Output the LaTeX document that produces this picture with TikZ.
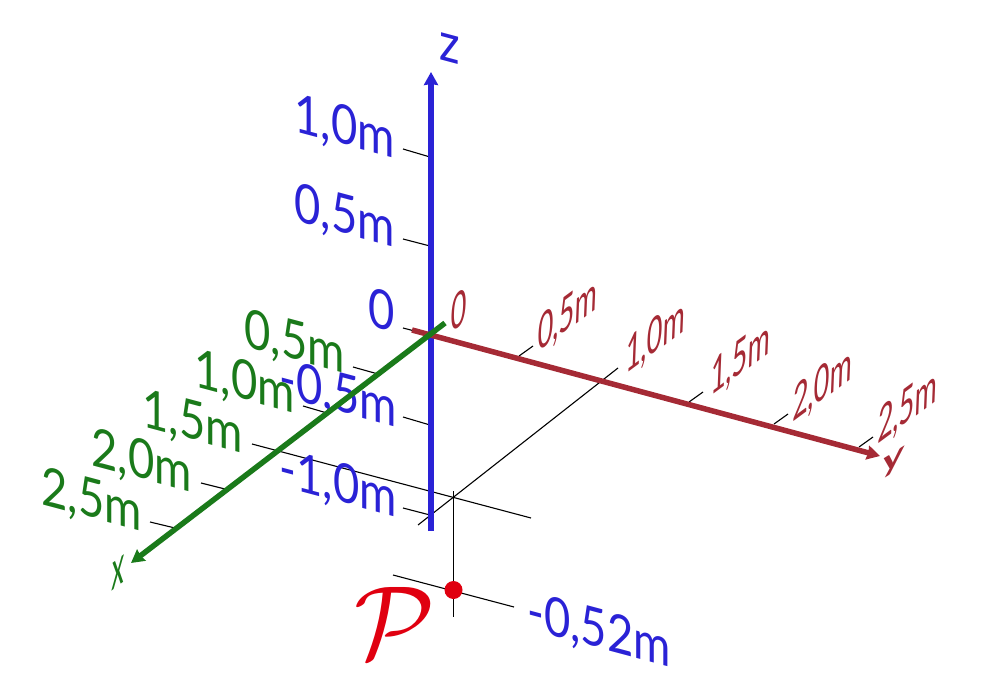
\documentclass[tikz,border=0pt]{standalone}
\usepackage{amsmath}
\usepackage{fontspec}
\setmainfont{Lato}
\usetikzlibrary{arrows.meta, positioning}
\tikzset{
    textnode/.style = {draw=none, fill=none, rectangle, inner sep = 0em, font=\fontsize{50}{50}\selectfont},
    bluelabel/.style = {textnode, text=zblue, anchor=base east, font=\fontsize{54}{54}\selectfont, transform shape, cm={0.84,-0.224,0,1,(0,0)}},
    greenlabel/.style = {textnode, text=xgreen, anchor=base east, font=\fontsize{54}{54}\selectfont, transform shape, cm={0.84,-0.224,0,1,(0,0)}},
    redlabel/.style = {textnode, text=ybrown, anchor=base west, transform shape, cm={0.54,0.40,0.04,1,(0,0)}},
    tickline/.style = {black, line width=1.1pt},
    axisline/.style = {line width=5.5pt, -{Stealth[length=13pt,width=14pt,inset=1pt]}},
    dotnode/.style = {draw=none, fill=pointred, circle, minimum size=18pt, inner sep = 0em}
}
\definecolor{zblue}{RGB}{42, 34, 214}
\definecolor{xgreen}{RGB}{26, 122, 26}
\definecolor{ybrown}{RGB}{165, 42, 53}
\definecolor{pointred}{RGB}{224, 0, 16}

\begin{document}
\begin{tikzpicture}[x=1pt, y=-1pt]
\useasboundingbox (0,0) rectangle (1000,700);

% ticks on the vertical axis
\coordinate (zs1) at (403,149); \coordinate (ze1) at (430,157); \draw [tickline] (zs1) -- (ze1);
\coordinate (zs2) at (403,239); \coordinate (ze2) at (430,246); \draw [tickline] (zs2) -- (ze2);
\coordinate (zs3) at (403,328); \coordinate (ze3) at (430,335); \draw [tickline] (zs3) -- (ze3);
\coordinate (zs4) at (403,417); \coordinate (ze4) at (430,425); \draw [tickline] (zs4) -- (ze4);
\coordinate (zs5) at (403,508); \coordinate (ze5) at (430,515); \draw [tickline] (zs5) -- (ze5);

% ticks on the x axis
\coordinate (xs1) at (353,367); \coordinate (xe1) at (378,374); \draw [tickline] (xs1) -- (xe1);
\coordinate (xs2) at (303,406); \coordinate (xe2) at (327,413); \draw [tickline] (xs2) -- (xe2);
\coordinate (xs4) at (201,483); \coordinate (xe4) at (225,489); \draw [tickline] (xs4) -- (xe4);
\coordinate (xs5) at (150,522); \coordinate (xe5) at (175,528); \draw [tickline] (xs5) -- (xe5);

% ticks on the y axis
\coordinate (ys1) at (533,346); \coordinate (ye1) at (519,356); \draw [tickline] (ys1) -- (ye1);
\coordinate (ys3) at (703,392); \coordinate (ye3) at (689,402); \draw [tickline] (ys3) -- (ye3);
\coordinate (ys4) at (788,414); \coordinate (ye4) at (774,424); \draw [tickline] (ys4) -- (ye4);
\coordinate (ys5) at (873,437); \coordinate (ye5) at (859,447); \draw [tickline] (ys5) -- (ye5);

% lines down to the point
\coordinate (xs3) at (252,444); \coordinate (xe3) at (531,518); \draw [tickline] (xs3) -- (xe3);
\coordinate (ys2) at (618,368); \coordinate (ye2) at (418,525); \draw [tickline] (ys2) -- (ye2);
\coordinate (ps) at (453.5,491); \coordinate (pe) at (453.5,617); \draw [tickline] (ps) -- (pe);
\coordinate (qs) at (393,575); \coordinate (qe) at (514,607); \draw [tickline] (qs) -- (qe);

% labels of the vertical axis
\node [bluelabel, name=zname] at (460,65) {z};
\node [bluelabel, name=zlab1] at (395,158) {1,0m};
\node [bluelabel, name=zlab2] at (395,247) {0,5m};
\node [bluelabel, name=zlab3] at (395,333) {0};
\node [bluelabel, name=zlab4] at (397,427) {-0,5m};
\node [bluelabel, name=zlab5] at (397,517) {-1,0m};
\node [bluelabel, name=pvalue] at (671,667) {-0,52m};

% labels of the x axis
\node [greenlabel, name=xlab1] at (345,373) {0,5m};
\node [greenlabel, name=xlab2] at (295,413) {1,0m};
\node [greenlabel, name=xlab3] at (243,453) {1,5m};
\node [greenlabel, name=xlab4] at (192,492) {2,0m};
\node [greenlabel, name=xlab5] at (142,531) {2,5m};
\node [textnode, name=xname, text=xgreen, anchor=base, transform shape, cm={0.5,0.38,0.04,1.1,(0,0)}] at (118,587) {x};

% labels of the y axis
\node [redlabel, name=ylab0] at (450,334) {0};
\node [redlabel, name=ylab1] at (537,353) {0,5m};
\node [redlabel, name=ylab2] at (625,375) {1,0m};
\node [redlabel, name=ylab3] at (710,397) {1,5m};
\node [redlabel, name=ylab4] at (792,423) {2,0m};
\node [redlabel, name=ylab5] at (877,445) {2,5m};
\node [textnode, name=yname, text=ybrown, anchor=base west, font=\fontsize{50}{50}\selectfont\bfseries, transform shape, cm={0.8,0.5,0.1,0.65,(0,0)}] at (881,476) {y};

% axes
\coordinate (zbot) at (431,531); \coordinate (ztop) at (431,72);
\coordinate (ybot) at (412,330); \coordinate (ytop) at (880,456);
\coordinate (xbot) at (445,323); \coordinate (xtop) at (131,563);
\draw [axisline, draw=zblue, fill=zblue] (zbot) -- (ztop);
\draw [axisline, draw=ybrown, fill=ybrown] (ybot) -- (ytop);
\draw [axisline, draw=xgreen, fill=xgreen] (xbot) -- (xtop);

\node [dotnode, name=point] at (453.5,590) {};
\node [textnode, name=pname, text=pointred, scale=10.4, font=\normalsize, transform shape] at (395,623) {$\mathcal{P}$};
\end{tikzpicture}
\end{document}
